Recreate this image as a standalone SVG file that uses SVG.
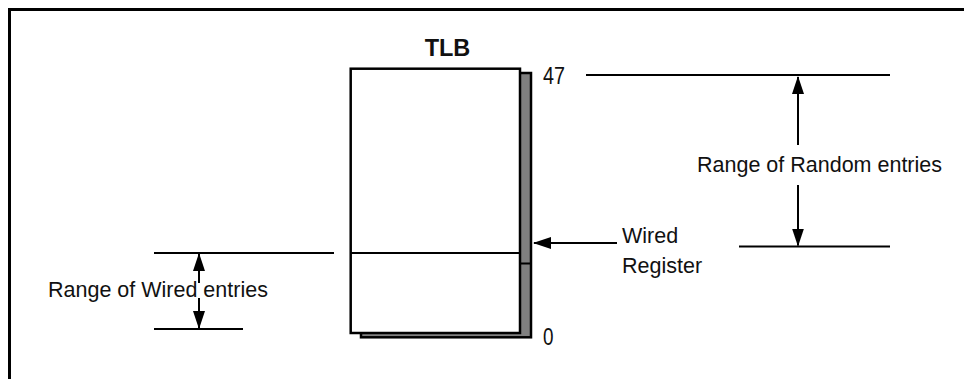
<svg xmlns="http://www.w3.org/2000/svg" width="964" height="379" viewBox="0 0 964 379">
  <style>
    .t { font-family: "Liberation Sans", Arial, sans-serif; font-size: 21.5px; fill: #111; }
    .n { font-family: "Liberation Sans", Arial, sans-serif; font-size: 23px; fill: #111; }
    .ln { stroke: #000; stroke-width: 2; fill: none; }
    .ar { stroke: #000; stroke-width: 2; fill: none; marker-end: url(#ah); }
  </style>
  <defs>
    <marker id="ah" viewBox="0 0 18 12" refX="17" refY="6" markerWidth="18" markerHeight="12" markerUnits="userSpaceOnUse" orient="auto">
      <path d="M0,0 L18,6 L0,12 Z" fill="#000"/>
    </marker>
  </defs>
  <rect width="964" height="379" fill="#fff"/>
  <g id="frame">
    <path d="M9.5,379 L9.5,9.5 L964,9.5" fill="none" stroke="#000" stroke-width="3"/>
  </g>
  <g id="tlb">
    <text x="447.5" y="56" text-anchor="middle" font-family="Liberation Sans, Arial, sans-serif" font-weight="bold" font-size="23.5" fill="#111">TLB</text>
    <rect x="361" y="73" width="170" height="264.3" fill="#808080" stroke="#000" stroke-width="2.5"/>
    <line x1="520" y1="263.5" x2="531" y2="263.5" stroke="#000" stroke-width="2"/>
    <rect x="350.7" y="68.7" width="169.3" height="264.3" fill="#fff" stroke="#000" stroke-width="2.5"/>
    <line x1="350.7" y1="253" x2="520" y2="253" stroke="#000" stroke-width="2"/>
    <text class="n" x="543" y="84" textLength="22" lengthAdjust="spacingAndGlyphs">47</text>
    <text class="n" x="543" y="345" textLength="10.5" lengthAdjust="spacingAndGlyphs">0</text>
  </g>
  <g id="random-range">
    <text class="t" x="697" y="172">Range of Random entries</text>
  </g>
  <g id="wired-register">
    <text class="t" x="622" y="243">Wired</text>
    <text class="t" x="622" y="273">Register</text>
  </g>
  <g id="wired-range">
    <text class="t" x="48" y="297">Range of Wired entries</text>
  </g>
  <g id="connectors">
    <line class="ln" x1="586" y1="75" x2="890" y2="75"/>
    <line class="ln" x1="739" y1="246.5" x2="890" y2="246.5"/>
    <line class="ar" x1="798" y1="145" x2="798" y2="77"/>
    <line class="ar" x1="798" y1="185" x2="798" y2="245.5"/>
    <line class="ar" x1="617" y1="243" x2="534" y2="243"/>
    <line class="ln" x1="154" y1="253" x2="334" y2="253"/>
    <line class="ln" x1="154" y1="329" x2="243" y2="329"/>
    <line class="ar" x1="199" y1="283" x2="199" y2="254"/>
    <line class="ar" x1="199" y1="298" x2="199" y2="328"/>
  </g>
</svg>
